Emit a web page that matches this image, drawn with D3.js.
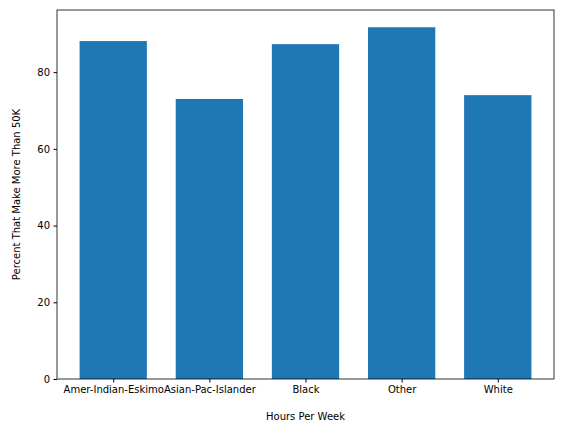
<!DOCTYPE html>
<html><head><meta charset="utf-8">
<script src="https://cdn.jsdelivr.net/npm/d3@7"></script>
<style>body{margin:0;background:#fff}text{font-family:"DejaVu Sans",sans-serif}</style>
</head><body><svg id="c" width="563" height="432"></svg>
<script>
const categories = ["Amer-Indian-Eskimo","Asian-Pac-Islander","Black","Other","White"];
const values = [88.1, 73.0, 87.3, 91.7, 74.0];
const yTicks = [0,20,40,60,80];

const svg = d3.select("#c");
const L=57,R=554,T=10,B=379;
const x = d3.scaleLinear().domain([-0.585,4.585]).range([L,R]);
const y = d3.scaleLinear().domain([0,96.2]).range([B,T]);

svg.selectAll("rect.bar").data(values).join("rect")
  .attr("x",(d,i)=>x(i-0.35)).attr("width",(d,i)=>x(i+0.35)-x(i-0.35))
  .attr("y",d=>y(d)).attr("height",d=>B-y(d)).attr("fill","#1f77b4");

const ga = svg.append("g").attr("transform",`translate(0,${B})`)
  .call(d3.axisBottom(x).tickValues(d3.range(5)).tickFormat(i=>categories[i]).tickSizeOuter(0).tickSize(3.5).tickPadding(3.5));
const gy = svg.append("g").attr("transform",`translate(${L},0)`)
  .call(d3.axisLeft(y).tickValues(yTicks).tickSizeOuter(0).tickSize(3.5).tickPadding(3.5));
[ga,gy].forEach(g=>{g.select(".domain").remove();g.selectAll("text").attr("font-size",10).attr("fill","#000");g.selectAll("line").attr("stroke","#000");});

svg.append("rect").attr("x",L).attr("y",T).attr("width",R-L).attr("height",B-T)
  .attr("fill","none").attr("stroke","#000").attr("stroke-width",0.8);

svg.append("text").attr("x",(L+R)/2).attr("y",420).attr("text-anchor","middle").attr("font-size",10).text("Hours Per Week");
svg.append("text").attr("transform",`translate(20,${(T+B)/2}) rotate(-90)`).attr("text-anchor","middle").attr("font-size",10).text("Percent That Make More Than 50K");
</script></body></html>
